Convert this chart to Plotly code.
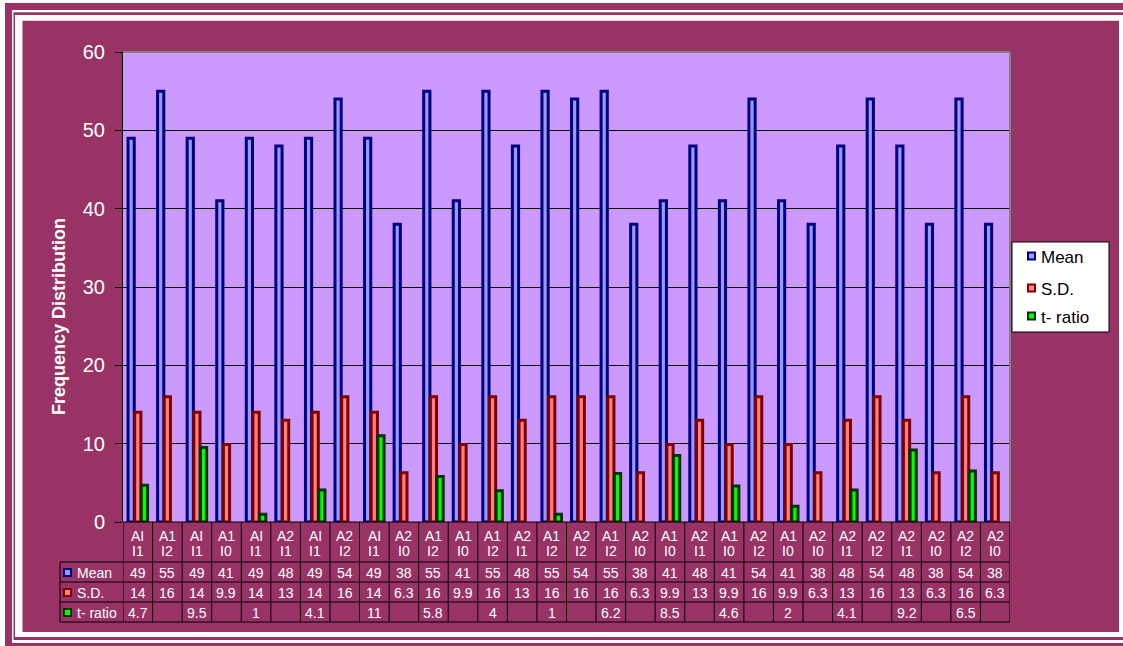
import plotly.graph_objects as go

# Group labels (two lines each) for the 30 conditions
level_a = ["AI", "A1", "AI", "A1", "AI", "A2", "AI", "A2", "AI", "A2",
           "A1", "A1", "A1", "A2", "A1", "A2", "A1", "A2", "A1", "A2",
           "A1", "A2", "A1", "A2", "A2", "A2", "A2", "A2", "A2", "A2"]
level_i = ["I1", "I2", "I1", "I0", "I1", "I1", "I1", "I2", "I1", "I0",
           "I2", "I0", "I2", "I1", "I2", "I2", "I2", "I0", "I0", "I1",
           "I0", "I2", "I0", "I0", "I1", "I2", "I1", "I0", "I2", "I0"]

mean_vals = [49, 55, 49, 41, 49, 48, 49, 54, 49, 38,
             55, 41, 55, 48, 55, 54, 55, 38, 41, 48,
             41, 54, 41, 38, 48, 54, 48, 38, 54, 38]
sd_vals = [14, 16, 14, 9.9, 14, 13, 14, 16, 14, 6.3,
           16, 9.9, 16, 13, 16, 16, 16, 6.3, 9.9, 13,
           9.9, 16, 9.9, 6.3, 13, 16, 13, 6.3, 16, 6.3]
t_vals = [4.7, None, 9.5, None, 1, None, 4.1, None, 11, None,
          5.8, None, 4, None, 1, None, 6.2, None, 8.5, None,
          4.6, None, 2, None, 4.1, None, 9.2, None, 6.5, None]

series_names = ["Mean", "S.D.", "t- ratio"]
series_fill = ["#9999FF", "#FF8080", "#00FF00"]
series_edge = ["#000080", "#800000", "#003300"]

# Canvas geometry (pixels)
W, H = 1123, 646
L, R, T, B = 123, 113, 52, 124
PW, PH = W - L - R, H - T - B

MAROON = "#993366"
FONT = "Arial, Liberation Sans, sans-serif"


def fx(px):
    return (px - L) / PW


def fy(py):
    return (H - B - py) / PH


n = len(mean_vals)
xs = list(range(n))

fig = go.Figure()
bar_w = 0.21
offsets = [-0.33, -0.105, 0.12]
for name, vals, fill, edge, off in zip(series_names, [mean_vals, sd_vals, t_vals],
                                       series_fill, series_edge, offsets):
    fig.add_trace(go.Bar(
        x=xs, y=vals, name=name, width=bar_w, offset=off,
        marker=dict(color=fill, line=dict(color=edge, width=3)),
        showlegend=False,
    ))

shapes = []


def prect(x0, y0, x1, y1, fill, line=None, lw=0, layer="below"):
    shapes.append(dict(type="rect", xref="paper", yref="paper",
                       x0=fx(x0), x1=fx(x1), y0=fy(y0), y1=fy(y1),
                       fillcolor=fill, line=dict(color=line or fill, width=lw),
                       layer=layer))


def pline(x0, y0, x1, y1, color="black", lw=1, layer="above"):
    shapes.append(dict(type="line", xref="paper", yref="paper",
                       x0=fx(x0), x1=fx(x1), y0=fy(y0), y1=fy(y1),
                       line=dict(color=color, width=lw), layer=layer))


# Decorative double frame
prect(5, 3, 1140, 660, MAROON)
prect(12, 10, 1140, 643, "white")
prect(13.5, 12.3, 1140, 640, MAROON)
prect(15, 15, 1140, 637, "white")
prect(22.5, 20.7, 1119, 632, MAROON)
# Plot area
prect(L, T, L + PW, T + PH, "#CC99FF")
pline(L, T, L + PW, T, color="#808080", lw=2)
pline(L + PW, T, L + PW, T + PH, color="#808080", lw=2)

# Data table grid
row_y = [562, 582, 602, 622]
pline(L, 522, L + PW, 522)
for y in row_y:
    pline(60, y, L + PW, y)
pline(60, 562, 60, 622)
for i in range(n + 1):
    shapes.append(dict(type="line", xref="x", yref="paper",
                       x0=i - 0.5, x1=i - 0.5, y0=fy(522), y1=fy(622),
                       line=dict(color="black", width=1), layer="above"))

annotations = []
tfont = dict(family=FONT, size=14, color="white")
for i in range(n):
    annotations.append(dict(x=i, y=fy(535.5), xref="x", yref="paper", text=level_a[i],
                            showarrow=False, font=tfont, xanchor="center", yanchor="middle"))
    annotations.append(dict(x=i, y=fy(550.5), xref="x", yref="paper", text=level_i[i],
                            showarrow=False, font=tfont, xanchor="center", yanchor="middle"))

row_centers = [572.5, 592.5, 612.5]
for vals, yc in zip([mean_vals, sd_vals, t_vals], row_centers):
    for i, v in enumerate(vals):
        if v is None:
            continue
        annotations.append(dict(x=i, y=fy(yc), xref="x", yref="paper", text=f"{v:g}",
                                showarrow=False, font=tfont, xanchor="center", yanchor="middle"))

# Row headers with colour keys
for name, fill, edge, yc in zip(series_names, series_fill, series_edge, row_centers):
    prect(64, yc - 3.5, 71, yc + 3.5, fill, line=edge, lw=2, layer="above")
    annotations.append(dict(x=fx(75), y=fy(yc), xref="paper", yref="paper", text=name,
                            showarrow=False, font=tfont, xanchor="left", yanchor="middle"))

# Legend box
prect(1012, 242, 1109, 332, "white", line="black", lw=1, layer="above")
for name, fill, edge, yc in zip(series_names, series_fill, series_edge, [256, 288, 316]):
    prect(1028, yc - 3.5, 1035, yc + 3.5, fill, line=edge, lw=2, layer="above")
    annotations.append(dict(x=fx(1039), y=fy(yc + 1.5), xref="paper", yref="paper", text=name,
                            showarrow=False, font=dict(family=FONT, size=17, color="black"),
                            xanchor="left", yanchor="middle"))

# Axis title
annotations.append(dict(x=fx(59), y=fy(317), xref="paper", yref="paper",
                        text="<b>Frequency Distribution</b>", textangle=-90,
                        showarrow=False, font=dict(family=FONT, size=18, color="white"),
                        xanchor="center", yanchor="middle"))

fig.update_layout(
    width=W, height=H,
    margin=dict(l=L, r=R, t=T, b=B, pad=0),
    paper_bgcolor="white",
    plot_bgcolor="rgba(0,0,0,0)",
    barmode="overlay",
    showlegend=False,
    shapes=shapes,
    annotations=annotations,
    xaxis=dict(range=[-0.5, n - 0.5], showticklabels=False, showgrid=False,
               zeroline=False, showline=False, ticks=""),
    yaxis=dict(range=[0, 60], dtick=10, showgrid=True, gridcolor="black", gridwidth=1,
               zeroline=False, showline=True, linecolor="black", linewidth=1,
               ticks="outside", ticklen=7, tickcolor="black", ticklabelstandoff=6,
               tickfont=dict(family=FONT, size=20, color="white")),
    font=dict(family=FONT),
)

fig.write_html("out.html")
